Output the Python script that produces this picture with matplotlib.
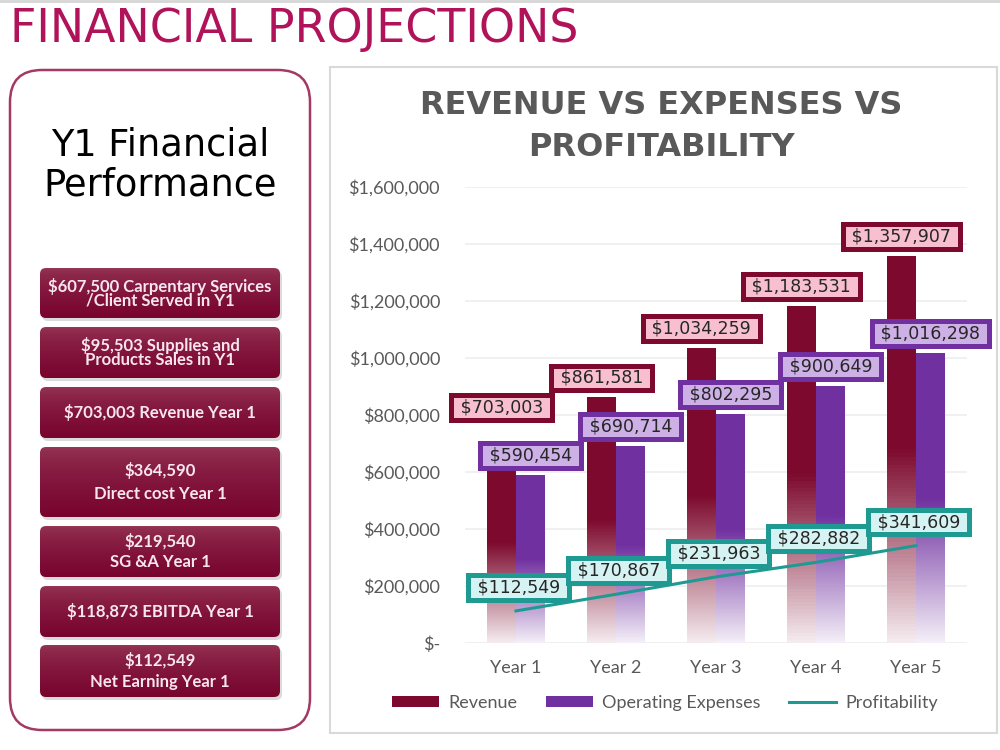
import numpy as np
import matplotlib
matplotlib.use('Agg')
import matplotlib.pyplot as plt
from matplotlib.patches import FancyBboxPatch, Rectangle, Patch
from matplotlib.lines import Line2D
from matplotlib.colors import to_rgb

# data
years = ['Year 1', 'Year 2', 'Year 3', 'Year 4', 'Year 5']
revenue = [703003, 861581, 1034259, 1183531, 1357907]
expenses = [590454, 690714, 802295, 900649, 1016298]
profit = [112549, 170867, 231963, 282882, 341609]
y_ticks = [0, 200000, 400000, 600000, 800000, 1000000, 1200000, 1400000, 1600000]
y_tick_labels = ['$-', '$200,000', '$400,000', '$600,000', '$800,000',
                 '$1,000,000', '$1,200,000', '$1,400,000', '$1,600,000']
rev_label_lift = [25, 14, 14, 14, 14]  # points above bar top

y1_items = ['$607,500 Carpentary Services\n/Client Served in Y1',
            '$95,503 Supplies and\nProducts Sales in Y1',
            '$703,003 Revenue Year 1',
            '$364,590\nDirect cost Year 1',
            '$219,540\nSG &A Year 1',
            '$118,873 EBITDA Year 1',
            '$112,549\nNet Earning Year 1']
# button layout (top, bottom) in pixels, and line spacing
y1_boxes = [(268, 318), (327, 378), (387, 438), (447, 517), (526, 577), (586, 637), (645, 697)]
y1_spacing = [0.8, 0.8, 1.0, 1.5, 1.35, 1.0, 1.45]

REV = '#7D0A2E'
EXP = '#7030A0'
PRO = '#1F9A93'
GRAY = '#595959'

fig = plt.figure(figsize=(10, 7.5), dpi=100)
fig.patch.set_facecolor('white')

# background layer in pixel coordinates
bg = fig.add_axes([0, 0, 1, 1])
bg.set_zorder(0)
bg.axis('off')

bg.plot([0, 1000], [1, 1], color='#D5D5D5', lw=2)
bg.text(10, 42, 'FINANCIAL PROJECTIONS', family='DejaVu Sans', fontsize=33,
        color='#B0135A', va='baseline', ha='left')

# left panel
bg.add_patch(FancyBboxPatch((10, 70), 300, 660, boxstyle='round,pad=0,rounding_size=32',
                            fc='white', ec='#A33A63', lw=1.8))
# va='baseline' anchors the last line here
bg.text(160, 195, 'Y1 Financial\nPerformance', family='DejaVu Sans', fontsize=26.5,
        ha='center', va='baseline', color='black', linespacing=1.09)

top_c = np.array(to_rgb('#963756'))
bot_c = np.array(to_rgb('#78042E'))
for txt, (t, b), ls in zip(y1_items, y1_boxes, y1_spacing):
    bg.add_patch(FancyBboxPatch((42, t + 3), 240, b - t, boxstyle='round,pad=0,rounding_size=6',
                                fc='#999999', ec='none', alpha=0.35))
    p = FancyBboxPatch((40, t), 240, b - t, boxstyle='round,pad=0,rounding_size=6',
                       fc='none', ec='none')
    bg.add_patch(p)
    s = np.linspace(0, 1, 64) ** 0.6
    grad = (top_c[None, :] * (1 - s[:, None]) + bot_c[None, :] * s[:, None])[:, None, :]
    im = bg.imshow(grad, extent=(40, 280, b, t), aspect='auto', zorder=2)
    im.set_clip_path(p)
    bg.text(160, (t + b) / 2, txt, family='Lato', fontweight='bold', fontsize=12,
            color='#F8E6EE', ha='center', va='center', linespacing=ls, zorder=3)

# chart panel
bg.add_patch(Rectangle((330, 67), 667, 666, fc='white', ec='#D9D9D9', lw=1.5))
bg.text(661, 156, 'REVENUE VS EXPENSES VS\nPROFITABILITY', family='DejaVu Sans',
        fontweight='bold', fontsize=23, color=GRAY, ha='center', va='baseline',
        linespacing=1.46)

bg.set_xlim(0, 1000)
bg.set_ylim(750, 0)

# chart
ax = fig.add_axes([0.465, 0.1427, 0.502, 0.608])
ax.set_zorder(1)
ax.patch.set_alpha(0)

x = np.arange(len(years))
w = 0.29


def fade_bars(bars, color):
    c = np.array(to_rgb(color))
    for b in bars:
        n = 100
        f = np.linspace(1, 0, n)  # top -> bottom
        s = np.where(f >= 0.5, 1.0, 0.08 + 0.92 * (f / 0.5))
        arr = (np.ones(3)[None, :] * (1 - s[:, None]) + c[None, :] * s[:, None])[:, None, :]
        x0 = b.get_x()
        im = ax.imshow(arr, extent=(x0, x0 + b.get_width(), 0, b.get_height()),
                       aspect='auto', zorder=2)
        im.set_clip_path(b)


rb = ax.bar(x - w / 2, revenue, w, fc='none', ec='none')
eb = ax.bar(x + w / 2, expenses, w, fc='none', ec='none')
fade_bars(rb, REV)
fade_bars(eb, EXP)

ax.plot(x, profit, color=PRO, lw=2.2, zorder=3)

lab_font = dict(family='DejaVu Sans', fontsize=12.5, color='#262626', ha='center', va='center')
box = 'square,pad=0.2'
for i in range(len(years)):
    ax.annotate(' ${:,} '.format(expenses[i]), (x[i] + w / 2, expenses[i]),
                xytext=(0, 14), textcoords='offset points', zorder=5,
                bbox=dict(boxstyle=box, fc='#CDB0E6', ec=EXP, lw=3.6), **lab_font)
    ax.annotate(' ${:,} '.format(revenue[i]), (x[i] - w / 2, revenue[i]),
                xytext=(0, rev_label_lift[i]), textcoords='offset points', zorder=6,
                bbox=dict(boxstyle=box, fc='#F7BFD0', ec=REV, lw=3.6), **lab_font)
    ax.annotate(' ${:,} '.format(profit[i]), (x[i], profit[i]),
                xytext=(2, 17), textcoords='offset points', zorder=7,
                bbox=dict(boxstyle=box, fc='#D5F3F2', ec=PRO, lw=3.6), **lab_font)

ax.set_xlim(-0.51, 4.51)
ax.set_ylim(0, 1600000)
ax.set_yticks(y_ticks)
ax.set_yticklabels(y_tick_labels, family='Lato', fontsize=13, color=GRAY)
ax.set_xticks(x)
ax.set_xticklabels(years, family='Lato', fontsize=13, color=GRAY)
ax.tick_params(axis='both', length=0)
ax.tick_params(axis='y', pad=18)
ax.tick_params(axis='x', pad=12)
for sp in ax.spines.values():
    sp.set_visible(False)
ax.grid(axis='y', color='#EEEEEE', lw=1.2, zorder=0)
ax.set_axisbelow(True)

handles = [Patch(fc=REV), Patch(fc=EXP), Line2D([], [], color=PRO, lw=2.2)]
fig.legend(handles, ['Revenue', 'Operating Expenses', 'Profitability'],
           loc='center', bbox_to_anchor=(0.665, 0.0627), ncol=3, frameon=False,
           prop=dict(family='Lato', size=13), labelcolor=GRAY,
           handlelength=2.6, handleheight=0.55, columnspacing=1.6, handletextpad=0.5)

fig.savefig('out.png', dpi=100)
